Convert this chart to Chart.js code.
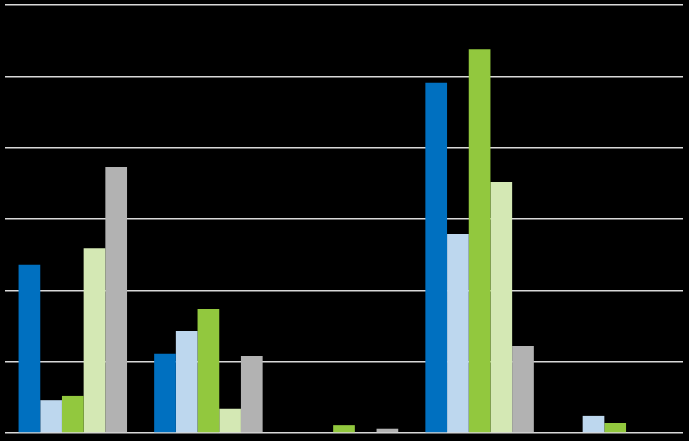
<!DOCTYPE html>
<html>
<head>
<meta charset="utf-8">
<script src="https://cdn.jsdelivr.net/npm/chart.js@4/dist/chart.umd.min.js"></script>
<style>
html,body{margin:0;padding:0;background:#000;}
#wrap{width:689px;height:441px;}
</style>
</head>
<body>
<div id="wrap"><canvas id="c" width="689" height="441"></canvas></div>
<script>
const categories = ["1", "2", "3", "4", "5"];
const seriesNames = ["Series 1", "Series 2", "Series 3", "Series 4", "Series 5"];
const series1 = [2.36, 1.11, 0, 4.91, 0];
const series2 = [0.46, 1.43, 0, 2.79, 0.24];
const series3 = [0.52, 1.74, 0.11, 5.38, 0.14];
const series4 = [2.59, 0.34, 0, 3.52, 0];
const series5 = [3.73, 1.08, 0.06, 1.22, 0];
const yTicks = [0, 1, 2, 3, 4, 5, 6];
const colors = ["#0070C0", "#BDD7EE", "#92C83E", "#D4E8B4", "#B2B2B2"];

const allSeries = [series1, series2, series3, series4, series5];
new Chart(document.getElementById('c'), {
  type: 'bar',
  data: {
    labels: categories,
    datasets: allSeries.map((d, i) => ({
      label: seriesNames[i],
      data: d,
      backgroundColor: colors[i],
      borderWidth: 0,
      barPercentage: 1.0,
      categoryPercentage: 0.8
    }))
  },
  options: {
    responsive: false,
    animation: false,
    layout: { padding: { left: 5, right: 6, top: 5, bottom: 8 } },
    plugins: { legend: { display: false }, tooltip: { enabled: false } },
    scales: {
      x: { display: false },
      y: {
        min: yTicks[0], max: yTicks[yTicks.length - 1],
        afterBuildTicks: (s) => { s.ticks = yTicks.map(v => ({ value: v })); },
        ticks: { display: false },
        border: { display: false },
        grid: { color: '#d9d9d9', lineWidth: 1.5, drawTicks: false }
      }
    }
  }
});
</script>
</body>
</html>
